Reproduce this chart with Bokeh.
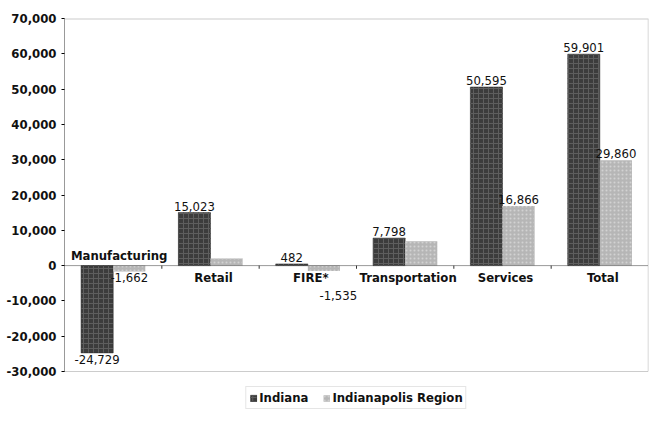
from bokeh.plotting import figure
from bokeh.models import ColumnDataSource, Range1d, NumeralTickFormatter, Legend, LegendItem, FixedTicker, Span
from bokeh.core.properties import value
from bokeh.embed import file_html
from bokeh.resources import INLINE

categories = ["Manufacturing", "Retail", "FIRE*", "Transportation", "Services", "Total"]
indiana = [-24729, 15023, 482, 7798, 50595, 59901]
region = [-1662, 2000, -1535, 6900, 16866, 29860]
indiana_labels = ["-24,729", "15,023", "482", "7,798", "50,595", "59,901"]
region_labels = ["-1,662", "", "-1,535", "", "16,866", "29,860"]
series_names = ["Indiana", "Indianapolis Region"]
y_ticks = list(range(-30000, 70001, 10000))
Y_MIN, Y_MAX = -30000, 70000

FONT = "'DejaVu Sans Condensed', 'Liberation Sans Narrow', 'Roboto Condensed', Roboto, sans-serif"
BAR_W = 0.33

W, H = 650, 410
TOP, BOTTOM = 18, 0
AXIS_PX = 353          # pixel height of the value axis (70,000 .. -30,000)
frame_h = H - TOP - BOTTOM
y_start = Y_MAX - (Y_MAX - Y_MIN) * frame_h / AXIS_PX   # room below the axis for the legend

n = len(categories)
centers = [i + 0.5 for i in range(n)]

p = figure(width=W, height=H, output_backend="svg", toolbar_location=None,
           x_range=Range1d(0, n), y_range=Range1d(y_start, Y_MAX),
           min_border_left=64, min_border_right=2, min_border_top=TOP, min_border_bottom=BOTTOM)

src = ColumnDataSource(dict(
    xi=[c - BAR_W / 2 for c in centers], xr=[c + BAR_W / 2 for c in centers],
    ind=indiana, reg=region))

r_ind = p.vbar(x="xi", top="ind", bottom=0, width=BAR_W, source=src,
               fill_color="#3c3c3c", line_color="#2e2e2e", line_width=0.5,
               hatch_pattern="+", hatch_color="#5e5e5e", hatch_scale=5, hatch_weight=1)
r_reg = p.vbar(x="xr", top="reg", bottom=0, width=BAR_W, source=src,
               fill_color="#b6b6b6", line_color=None,
               hatch_pattern="dot", hatch_color="#d2d2d2", hatch_scale=4, hatch_weight=1)

# plot-area border: top and right light grey, bottom dotted
p.add_layout(Span(location=Y_MAX, dimension="width", line_color="#cccccc", line_width=2))
p.segment(x0=[n], y0=[Y_MIN], x1=[n], y1=[Y_MAX], line_color="#cccccc", line_width=1.5)
p.line(x=[0, n], y=[Y_MIN, Y_MIN], line_color="#999999", line_width=1, line_dash="1 1")

# zero line and category boundary ticks
p.line(x=[0, n], y=[0, 0], line_color="#333333", line_width=1, line_dash="1 1")
bounds = list(range(1, n))
p.segment(x0=bounds, y0=[0] * len(bounds), x1=bounds, y1=[-900] * len(bounds),
          line_color="#333333", line_width=1)

# value labels
def add_labels(xs, vals, labels, extra=None):
    pos = dict(x=[], y=[], t=[])
    neg = dict(x=[], y=[], t=[], dy=[], dx=[])
    for i, (x, v, t) in enumerate(zip(xs, vals, labels)):
        if not t:
            continue
        if v >= 0:
            pos["x"].append(x); pos["y"].append(v); pos["t"].append(t)
        else:
            shift = extra[i] if extra else 0
            neg["x"].append(x); neg["y"].append(v); neg["t"].append(t)
            neg["dy"].append(2 + shift); neg["dx"].append(shift * 0.8)
    p.text(x="x", y="y", text="t", source=ColumnDataSource(pos), text_align="center",
           text_baseline="bottom", y_offset=-2, text_font=value(FONT),
           text_font_size="13px", text_color="#111111")
    p.text(x="x", y="y", text="t", source=ColumnDataSource(neg), text_align="center",
           text_baseline="top", y_offset="dy", x_offset="dx", text_font=value(FONT),
           text_font_size="13px", text_color="#111111")

add_labels([c - BAR_W / 2 for c in centers], indiana, indiana_labels)
add_labels([c + BAR_W / 2 for c in centers], region, region_labels,
           extra=[0 if a < 0 else 18 for a in indiana])

# category labels near the zero line
cat_above = dict(x=[], t=[])
cat_below = dict(x=[], t=[])
for c, name, v in zip(centers, categories, indiana):
    d = cat_above if v < 0 else cat_below
    d["x"].append(c); d["t"].append(name)
p.text(x="x", y=0, text="t", source=ColumnDataSource(cat_above), text_align="center",
       text_baseline="bottom", y_offset=-3, x_offset=6, text_font=value(FONT), text_font_style="bold",
       text_font_size="13px", text_color="#111111")
p.text(x="x", y=0, text="t", source=ColumnDataSource(cat_below), text_align="center",
       text_baseline="top", y_offset=4, x_offset=3, text_font=value(FONT), text_font_style="bold",
       text_font_size="13px", text_color="#111111")

p.xaxis.visible = False
p.xgrid.visible = False
p.ygrid.visible = False
p.outline_line_color = None

ax = p.yaxis[0]
ax.ticker = FixedTicker(ticks=y_ticks)
ax.bounds = (Y_MIN, Y_MAX)
ax.formatter = NumeralTickFormatter(format="0,0")
ax.axis_line_color = "#333333"
ax.axis_line_dash = "1 1"
ax.major_tick_in = 0
ax.major_tick_out = 3
ax.minor_tick_line_color = None
ax.major_label_text_font = FONT
ax.major_label_text_font_style = "bold"
ax.major_label_text_font_size = "13px"
ax.major_label_text_color = "#111111"

legend = Legend(items=[LegendItem(label=series_names[0], renderers=[r_ind]),
                       LegendItem(label=series_names[1], renderers=[r_reg])],
                orientation="horizontal", location="bottom_center",
                label_text_font=FONT, label_text_font_style="bold", label_text_font_size="13px",
                label_text_color="#111111", glyph_width=8, glyph_height=8,
                label_standoff=2, spacing=14, padding=3,
                border_line_color="#cccccc", background_fill_alpha=1)
legend.margin = 1
p.add_layout(legend)

open("out.html", "w").write(file_html(p, INLINE))
